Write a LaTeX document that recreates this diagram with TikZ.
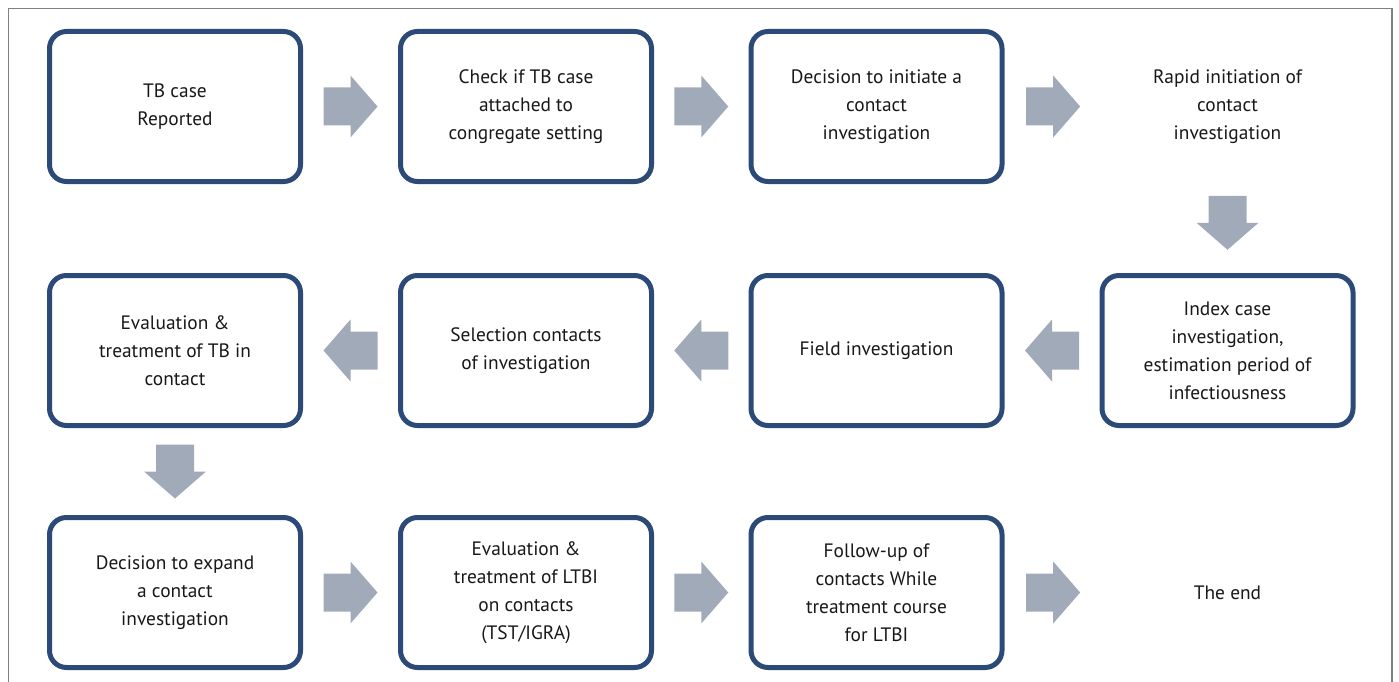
\documentclass[tikz,border=0pt]{standalone}
\usepackage{fontspec}
\setmainfont{PT Sans}
\usetikzlibrary{calc}
\definecolor{boxblue}{HTML}{2C4A78}
\definecolor{arrowgray}{HTML}{A1AAB9}
\definecolor{framegray}{HTML}{808080}
\definecolor{txt}{HTML}{1A1718}
\tikzset{
  stepbox/.style={draw=boxblue, line width=5pt, rounded corners=17pt, minimum width=251pt, minimum height=150pt, align=center, text=txt, font=\fontsize{19.4}{28}\selectfont, inner sep=0pt},
  plainbox/.style={minimum width=251pt, minimum height=150pt, align=center, text=txt, font=\fontsize{19.4}{28}\selectfont, inner sep=0pt},
  blk/.pic={\fill[arrowgray] (-27,-19) -- (0,-19) -- (0,-31) -- (27,0) -- (0,31) -- (0,19) -- (-27,19) -- cycle;}
}
\begin{document}
\begin{tikzpicture}[x=1pt,y=-1pt]
\useasboundingbox (0,0) rectangle (1399,682);
\begin{scope}
\clip (0,0) rectangle (1399,682);
\draw[framegray, line width=1.4pt] (8.5,8.5) rectangle (1392,700);
\end{scope}
% row 1
\node[stepbox] (a1) at (175,106.5) {TB case\\Reported};
\node[stepbox] (a2) at (526,106.5) {Check if TB case\\attached to\\congregate setting};
\node[stepbox] (a3) at (876.5,106.5) {Decision to initiate a\\contact\\investigation};
\node[plainbox] (a4) at (1227.5,106.5) {Rapid initiation of\\contact\\investigation};
% row 2
\node[stepbox] (b4) at (1227.5,350.5) {Index case\\investigation,\\estimation period of\\infectiousness};
\node[stepbox] (b3) at (876.5,350.5) {Field investigation};
\node[stepbox] (b2) at (526,350.5) {Selection contacts\\of investigation};
\node[stepbox] (b1) at (175,350.5) {Evaluation \&\\treatment of TB in\\contact};
% row 3
\node[stepbox] (c1) at (175,592.5) {Decision to expand\\a contact\\investigation};
\node[stepbox] (c2) at (526,592.5) {Evaluation \&\\treatment of LTBI\\on contacts\\(TST/IGRA)};
\node[stepbox] (c3) at (876.5,592.5) {Follow-up of\\contacts While\\treatment course\\for LTBI};
\node[plainbox] (c4) at (1227.5,592.5) {The end};
% arrows
\pic at ($(a1.east)!0.5!(a2.west)$) {blk};
\pic at ($(a2.east)!0.5!(a3.west)$) {blk};
\pic at ($(a3.east)!0.5!(a4.west)$) {blk};
\pic[rotate=-90] at ($(a4.south)!0.45!(b4.north)$) {blk};
\pic[rotate=180] at ($(b4.west)!0.5!(b3.east)$) {blk};
\pic[rotate=180] at ($(b3.west)!0.5!(b2.east)$) {blk};
\pic[rotate=180] at ($(b2.west)!0.5!(b1.east)$) {blk};
\pic[rotate=-90] at ($(b1.south)!0.5!(c1.north)$) {blk};
\pic at ($(c1.east)!0.5!(c2.west)$) {blk};
\pic at ($(c2.east)!0.5!(c3.west)$) {blk};
\pic at ($(c3.east)!0.5!(c4.west)$) {blk};
\end{tikzpicture}
\end{document}
